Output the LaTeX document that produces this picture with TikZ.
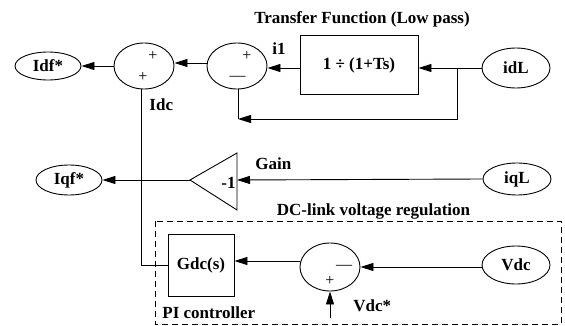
\documentclass[tikz,border=0pt]{standalone}
\usepackage{fontspec}
\setmainfont{Liberation Serif}
\usetikzlibrary{shapes.geometric,arrows.meta}
\begin{document}
\begin{tikzpicture}[x=1pt,y=-1pt,
  line width=0.9pt,
  arr/.style={-{Triangle[length=13pt,width=8pt]}},
  lbl/.style={font=\fontsize{17}{20}\selectfont\bfseries, inner sep=0},
  oval/.style={draw, ellipse, inner sep=0, font=\fontsize{17}{20}\selectfont\bfseries},
  sumnode/.style={draw, ellipse, minimum width=60pt, minimum height=46pt, inner sep=0},
  sgn/.style={font=\fontsize{16}{18}\selectfont, inner sep=0},
  blk/.style={draw, inner sep=0, font=\fontsize{17}{20}\selectfont\bfseries},
  dashbox/.style={dash pattern=on 6pt off 4pt}
]
\useasboundingbox (0,0) rectangle (565,326);

% nodes
\node[oval, minimum width=66pt, minimum height=28pt] (idf) at (48,66) {Idf*};
\node[sumnode] (s1) at (144,66) {};
\node[sumnode] (s2) at (237,66) {};
\node[blk, minimum width=118pt, minimum height=59pt] (tf) at (359,65) {1 ÷ (1+Ts)};
\node[oval, minimum width=68pt, minimum height=40pt] (idl) at (516,68) {idL};
\node[oval, minimum width=66pt, minimum height=30pt] (iqf) at (69,180) {Iqf*};
\node[oval, minimum width=68pt, minimum height=32pt] (iql) at (517,179) {iqL};
\node[blk, minimum width=66pt, minimum height=62pt] (gdc) at (201,265) {Gdc(s)};
\node[sumnode, minimum height=48pt] (s3) at (330,267) {};
\node[oval, minimum width=68pt, minimum height=38pt] (vdc) at (516,265) {Vdc};

% gain triangle
\coordinate (gR) at (237,180);
\coordinate (gL) at (190,180);
\draw (237,153) -- (gL) -- (237,210) -- cycle;

% helper coordinates
\coordinate (j) at (457,68);
\coordinate (fb) at (238,119);
\coordinate (s1b) at (141,89);
\coordinate (vref) at (330,318);

% connectors
\draw[arr] (idl.west) -- (tf.east |- idl.west);
\draw[arr] (tf.west |- idl.west) -- (s2.east |- idl.west);
\draw[arr] (s2.west |- 0,63) -- (s1.east |- 0,63);
\draw[arr] (s1.west) -- (idf.east);
\draw[arr] (j) |- (fb);
\draw (fb) -- (fb |- s2.south);
\draw (gdc.west) -| (s1b);
\draw[arr] (iql.west) -- (gR);
\draw[arr] (gL) -- (iqf.east);
\draw[arr] (vdc.west |- s3.east) -- (s3.east);
\draw[arr] (s3.west |- 0,261) -- (gdc.east |- 0,261);
\draw[arr] (vref) -- (s3.south);

% dashed region
\draw[dashbox] (155,221) rectangle (561,324);

% labels
\node[lbl, anchor=base] (title) at (362,23.5) {Transfer Function (Low pass)};
\node[lbl, anchor=base west] (li1) at (272,55) {i1};
\node[lbl, anchor=base west] (lidc) at (149,111) {Idc};
\node[lbl, anchor=base west] (lgain) at (255,170) {Gain};
\node[lbl, anchor=base west] (lm1) at (221,188) {-1};
\node[lbl, anchor=base] (ldc) at (373.5,215) {DC-link voltage regulation};
\node[lbl, anchor=base west] (lpi) at (162,318) {PI controller};
\node[lbl, anchor=base west] (lvdc) at (353,311) {Vdc*};

% signs
\node[sgn] (p11) at (153,56) {+};
\node[sgn] (p12) at (143,77) {+};
\node[sgn] (p21) at (247,56) {+};
\node[sgn] (m22) at (237.5,78) {—};
\node[sgn] (m31) at (344,267) {—};
\node[sgn] (p32) at (330,281) {+};
\end{tikzpicture}
\end{document}
